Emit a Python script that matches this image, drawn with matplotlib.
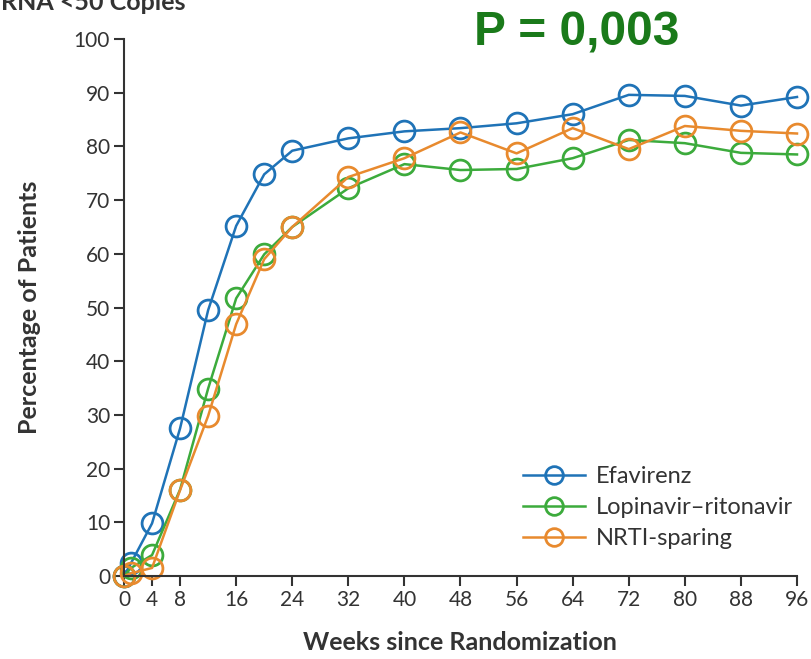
import matplotlib
matplotlib.use("Agg")
from matplotlib import pyplot as plt

weeks = [0, 1, 4, 8, 12, 16, 20, 24, 32, 40, 48, 56, 64, 72, 80, 88, 96]
efavirenz = [0, 2.4, 9.8, 27.5, 49.5, 65.2, 74.8, 79.2, 81.5, 82.8, 83.4, 84.3, 86.0, 89.6, 89.4, 87.6, 89.2]
lopinavir = [0, 1.5, 3.9, 16.1, 34.9, 51.7, 59.9, 65.0, 72.2, 76.7, 75.6, 75.8, 77.8, 81.2, 80.6, 78.8, 78.5]
nrti_sparing = [0, 0.5, 1.5, 16.0, 29.8, 46.9, 59.0, 65.0, 74.3, 77.8, 82.6, 78.7, 83.4, 79.5, 83.8, 82.9, 82.4]
xticks = [0, 4, 8, 16, 24, 32, 40, 48, 56, 64, 72, 80, 88, 96]
yticks = list(range(0, 101, 10))

plt.rcParams['font.family'] = ['Lato', 'DejaVu Sans']

fig = plt.figure(figsize=(8.12, 6.59), dpi=100)
ax = fig.add_axes([124/812, 1-576/659, (797-124)/812, (576-39)/659])

series = [
    (efavirenz, '#1f73b7', 'Efavirenz'),
    (lopinavir, '#3cab3c', 'Lopinavir\u2013ritonavir'),
    (nrti_sparing, '#e88a2e', 'NRTI-sparing'),
]
for vals, col, lab in series:
    ax.plot(weeks, vals, color=col, lw=1.8, marker='o', ms=15, mfc='none',
            mec=col, mew=2.0, label=lab, clip_on=False)

ax.set_xlim(0, 96)
ax.set_ylim(0, 100)
ax.set_xticks(xticks)
ax.set_yticks(yticks)
for s in ['top', 'right']:
    ax.spines[s].set_visible(False)
for s in ['left', 'bottom']:
    ax.spines[s].set_color('#333333')
    ax.spines[s].set_linewidth(1.5)
ax.tick_params(direction='out', length=7, width=1.5, color='#333333',
               labelsize=15, labelcolor='#333333', pad=3)

ax.set_xlabel('Weeks since Randomization', fontsize=18, fontweight='bold',
              color='#333333')
ax.set_ylabel('Percentage of Patients', fontsize=18, fontweight='bold',
              color='#333333')
ax.xaxis.set_label_coords((460-124)/673, -(643-576)/537)
ax.yaxis.set_label_coords(-(124-30)/673, 0.5)
ax.xaxis.label.set_va('center')
ax.yaxis.label.set_va('center')

leg = ax.legend(loc='upper left', bbox_to_anchor=(0.565, 0.24), frameon=False,
                fontsize=17, handlelength=2.6, labelspacing=0.42,
                handletextpad=0.5, markerscale=0.85, borderpad=0.3)
for t in leg.get_texts():
    t.set_color('#333333')

fig.text(577/812, 1-33/659, 'P = 0,003', ha='center', va='center',
         fontsize=34.5, fontweight='bold', color='#1a7a1a',
         family=['Liberation Sans', 'DejaVu Sans'], fontstretch='normal')
fig.text(1/812, 1-2/659, 'RNA <50 Copies', ha='left', va='center',
         fontsize=18, fontweight='bold', color='#333333')

fig.savefig('out.png', dpi=100)
